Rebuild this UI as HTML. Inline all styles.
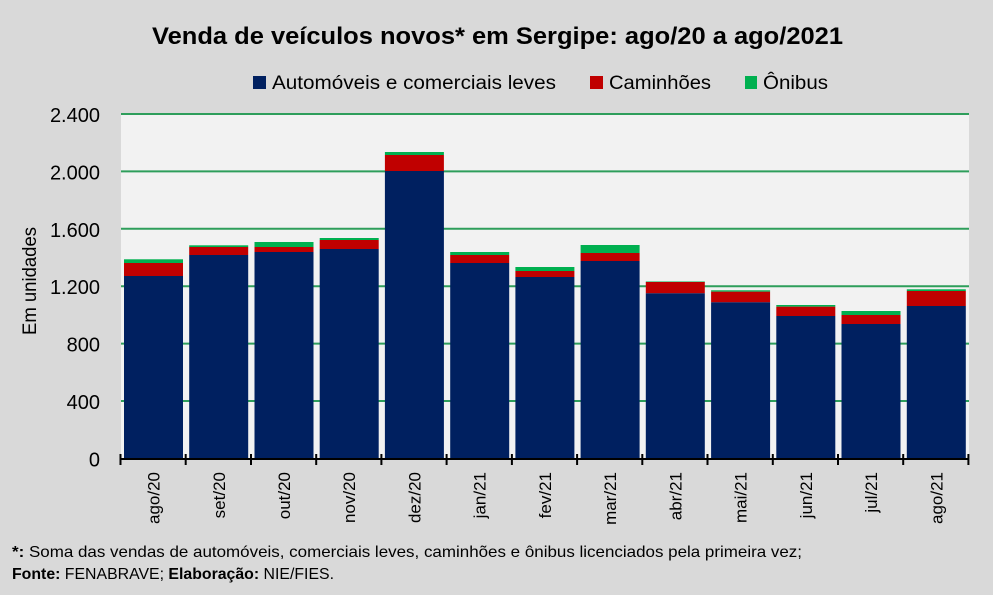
<!DOCTYPE html>
<html>
<head>
<meta charset="utf-8">
<style>
html,body{margin:0;padding:0;background:#d9d9d9;}
svg{display:block;}
text{font-family:"Liberation Sans",sans-serif;fill:#000;}
</style>
</head>
<body>
<svg width="993" height="595" viewBox="0 0 993 595" xmlns="http://www.w3.org/2000/svg">
<rect x="0" y="0" width="993" height="595" fill="#d9d9d9"/>
<!-- plot area -->
<rect x="121" y="114" width="848" height="345" fill="#f2f2f2"/>
<!-- gridlines -->
<g stroke="#2e9e5b" stroke-width="2">
<line x1="121" y1="114" x2="969" y2="114"/>
<line x1="121" y1="171.4" x2="969" y2="171.4"/>
<line x1="121" y1="228.8" x2="969" y2="228.8"/>
<line x1="121" y1="286.2" x2="969" y2="286.2"/>
<line x1="121" y1="343.6" x2="969" y2="343.6"/>
<line x1="121" y1="401" x2="969" y2="401"/>
</g>
<!-- bars -->
<g>
<rect x="124" y="259.3" width="59" height="3.7" fill="#00b050"/>
<rect x="124" y="263" width="59" height="13" fill="#c00000"/>
<rect x="124" y="276" width="59" height="182.5" fill="#002060"/>
<rect x="189.2" y="245.3" width="59" height="1.7" fill="#00b050"/>
<rect x="189.2" y="247" width="59" height="8" fill="#c00000"/>
<rect x="189.2" y="255" width="59" height="203.5" fill="#002060"/>
<rect x="254.5" y="242" width="59" height="5" fill="#00b050"/>
<rect x="254.5" y="247" width="59" height="5" fill="#c00000"/>
<rect x="254.5" y="252" width="59" height="206.5" fill="#002060"/>
<rect x="319.7" y="238" width="59" height="2" fill="#00b050"/>
<rect x="319.7" y="240" width="59" height="9" fill="#c00000"/>
<rect x="319.7" y="249" width="59" height="209.5" fill="#002060"/>
<rect x="384.9" y="152" width="59" height="3" fill="#00b050"/>
<rect x="384.9" y="155" width="59" height="16" fill="#c00000"/>
<rect x="384.9" y="171" width="59" height="287.5" fill="#002060"/>
<rect x="450.2" y="252" width="59" height="3" fill="#00b050"/>
<rect x="450.2" y="255" width="59" height="8" fill="#c00000"/>
<rect x="450.2" y="263" width="59" height="195.5" fill="#002060"/>
<rect x="515.4" y="267" width="59" height="4" fill="#00b050"/>
<rect x="515.4" y="271" width="59" height="6" fill="#c00000"/>
<rect x="515.4" y="277" width="59" height="181.5" fill="#002060"/>
<rect x="580.6" y="245" width="59" height="8" fill="#00b050"/>
<rect x="580.6" y="253" width="59" height="8" fill="#c00000"/>
<rect x="580.6" y="261" width="59" height="197.5" fill="#002060"/>
<rect x="645.8" y="281.5" width="59" height="0.8" fill="#00b050"/>
<rect x="645.8" y="282" width="59" height="11.3" fill="#c00000"/>
<rect x="645.8" y="293.3" width="59" height="165.2" fill="#002060"/>
<rect x="711.1" y="290.3" width="59" height="1.4" fill="#00b050"/>
<rect x="711.1" y="291.7" width="59" height="10.6" fill="#c00000"/>
<rect x="711.1" y="302.3" width="59" height="156.2" fill="#002060"/>
<rect x="776.3" y="305" width="59" height="1.7" fill="#00b050"/>
<rect x="776.3" y="306.7" width="59" height="9.3" fill="#c00000"/>
<rect x="776.3" y="316" width="59" height="142.5" fill="#002060"/>
<rect x="841.5" y="311" width="59" height="4" fill="#00b050"/>
<rect x="841.5" y="315" width="59" height="9" fill="#c00000"/>
<rect x="841.5" y="324" width="59" height="134.5" fill="#002060"/>
<rect x="906.8" y="289.3" width="59" height="1.7" fill="#00b050"/>
<rect x="906.8" y="291" width="59" height="15" fill="#c00000"/>
<rect x="906.8" y="306" width="59" height="152.5" fill="#002060"/>
</g>
<!-- x axis -->
<g stroke="#000" stroke-width="2">
<line x1="120" y1="459" x2="969" y2="459"/>
<line x1="120.5" y1="454" x2="120.5" y2="465"/>
<line x1="185.7" y1="454" x2="185.7" y2="465"/>
<line x1="251" y1="454" x2="251" y2="465"/>
<line x1="316.2" y1="454" x2="316.2" y2="465"/>
<line x1="381.4" y1="454" x2="381.4" y2="465"/>
<line x1="446.6" y1="454" x2="446.6" y2="465"/>
<line x1="511.9" y1="454" x2="511.9" y2="465"/>
<line x1="577.1" y1="454" x2="577.1" y2="465"/>
<line x1="642.3" y1="454" x2="642.3" y2="465"/>
<line x1="707.5" y1="454" x2="707.5" y2="465"/>
<line x1="772.8" y1="454" x2="772.8" y2="465"/>
<line x1="838" y1="454" x2="838" y2="465"/>
<line x1="903.2" y1="454" x2="903.2" y2="465"/>
<line x1="968.4" y1="454" x2="968.4" y2="465"/>
</g>
<!-- y tick labels -->
<g font-size="20" text-anchor="end">
<text x="100" y="122">2.400</text>
<text x="100" y="179.4">2.000</text>
<text x="100" y="236.8">1.600</text>
<text x="100" y="294.2">1.200</text>
<text x="100" y="351.6">800</text>
<text x="100" y="409">400</text>
<text x="100" y="466.4">0</text>
</g>
<!-- y axis title -->
<text transform="translate(36,281) rotate(-90)" font-size="19" text-anchor="middle" textLength="108" lengthAdjust="spacingAndGlyphs">Em unidades</text>
<!-- x labels -->
<g font-size="17" text-anchor="end">
<text transform="translate(159.5,472) rotate(-90)">ago/20</text>
<text transform="translate(224.8,472) rotate(-90)">set/20</text>
<text transform="translate(290,472) rotate(-90)">out/20</text>
<text transform="translate(355.2,472) rotate(-90)">nov/20</text>
<text transform="translate(420.5,472) rotate(-90)">dez/20</text>
<text transform="translate(485.7,472) rotate(-90)">jan/21</text>
<text transform="translate(550.9,472) rotate(-90)">fev/21</text>
<text transform="translate(616.1,472) rotate(-90)">mar/21</text>
<text transform="translate(681.4,472) rotate(-90)">abr/21</text>
<text transform="translate(746.6,472) rotate(-90)">mai/21</text>
<text transform="translate(811.8,472) rotate(-90)">jun/21</text>
<text transform="translate(877,472) rotate(-90)">jul/21</text>
<text transform="translate(942.3,472) rotate(-90)">ago/21</text>
</g>
<!-- title -->
<text x="152" y="44" font-size="24" font-weight="bold" textLength="691" lengthAdjust="spacingAndGlyphs">Venda de veículos novos* em Sergipe: ago/20 a ago/2021</text>
<!-- legend -->
<rect x="253" y="76" width="13" height="13" fill="#002060"/>
<text x="272" y="89" font-size="19" textLength="284" lengthAdjust="spacingAndGlyphs">Automóveis e comerciais leves</text>
<rect x="590" y="76" width="13" height="13" fill="#c00000"/>
<text x="609" y="89" font-size="19" textLength="102" lengthAdjust="spacingAndGlyphs">Caminhões</text>
<rect x="745" y="76" width="12" height="13" fill="#00b050"/>
<text x="763" y="89" font-size="19" textLength="65" lengthAdjust="spacingAndGlyphs">Ônibus</text>
<!-- footer -->
<text x="12" y="557" font-size="16" textLength="790" lengthAdjust="spacingAndGlyphs"><tspan font-weight="bold">*:</tspan> Soma das vendas de automóveis, comerciais leves, caminhões e ônibus licenciados pela primeira vez;</text>
<text x="12" y="579" font-size="16" textLength="322" lengthAdjust="spacingAndGlyphs"><tspan font-weight="bold">Fonte:</tspan> FENABRAVE; <tspan font-weight="bold">Elaboração:</tspan> NIE/FIES.</text>
</svg>
</body>
</html>
